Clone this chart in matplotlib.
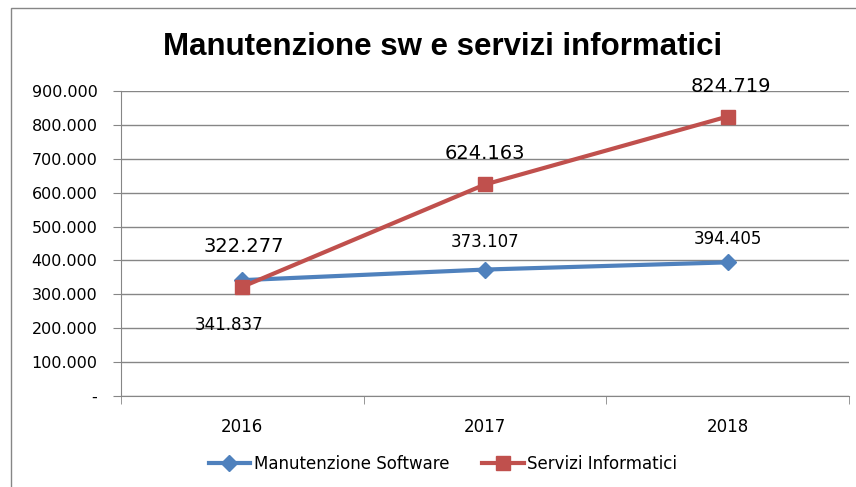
import matplotlib
matplotlib.use("Agg")
import matplotlib.pyplot as plt
from matplotlib.patches import Rectangle
from matplotlib.ticker import FuncFormatter

# Data (values in euro)
years = ["2016", "2017", "2018"]
manutenzione = [341837, 373107, 394405]
servizi = [322277, 624163, 824719]

# label offsets (pixels) relative to each point
man_offsets = [(-13, -45), (0, 28), (0, 23)]
ser_offsets = [(1, 40), (0, 31), (3, 30)]

blue = "#4F81BD"
red = "#C0504D"
grid_col = "#868686"


def it_fmt(v, pos=None):
    if v == 0:
        return "-"
    return f"{int(round(v)):,}".replace(",", ".")


fig = plt.figure(figsize=(8.56, 4.87), dpi=100)
# outer chart frame (cropped at right/bottom as in the reference)
fig.patches.append(Rectangle((11 / 856, -0.1), 1.2, 1.1 - 8 / 487, transform=fig.transFigure,
                             fill=False, edgecolor="#868686", linewidth=1.0))

ax = fig.add_axes([121 / 856, 1 - 396 / 487, (849 - 121) / 856, (396 - 91) / 487])
x = list(range(len(years)))

ax.plot(x, manutenzione, color=blue, linewidth=3, marker="D", markersize=8,
        label="Manutenzione Software", zorder=3)
ax.plot(x, servizi, color=red, linewidth=3, marker="s", markersize=10,
        label="Servizi Informatici", zorder=4)

for xi, v, off in zip(x, manutenzione, man_offsets):
    ax.annotate(it_fmt(v), (xi, v), xytext=off, textcoords="offset pixels",
                ha="center", va="center", fontsize=12, color="black")
for xi, v, off in zip(x, servizi, ser_offsets):
    ax.annotate(it_fmt(v), (xi, v), xytext=off, textcoords="offset pixels",
                ha="center", va="center", fontsize=14, color="black")

ax.set_xlim(-0.5, 2.5)
ax.set_ylim(0, 900000)
ax.set_yticks(range(0, 900001, 100000))
ax.yaxis.set_major_formatter(FuncFormatter(it_fmt))
ax.yaxis.grid(True, color=grid_col, linewidth=1)
ax.set_axisbelow(True)

ax.set_xticks(x)
ax.set_xticklabels(years)
ax.set_xticks([-0.5, 0.5, 1.5, 2.5], minor=True)
ax.tick_params(axis="x", which="major", length=0, pad=16, labelsize=12)
ax.tick_params(axis="x", which="minor", length=6, color=grid_col)
ax.tick_params(axis="y", length=6, color=grid_col, labelsize=11.5, pad=11)

for s in ["top", "right"]:
    ax.spines[s].set_visible(False)
for s in ["left", "bottom"]:
    ax.spines[s].set_color(grid_col)

fig.text(443 / 856, 1 - 47 / 487, "Manutenzione sw e servizi informatici",
         ha="center", va="center", fontsize=22.5, fontweight="bold",
         family="Liberation Sans")

fig.legend(loc="center", bbox_to_anchor=(443 / 856, 1 - 464 / 487), ncol=2,
           frameon=False, fontsize=12, handlelength=2.5, columnspacing=2.0,
           handletextpad=0.2)

fig.savefig("out.png", dpi=100)
